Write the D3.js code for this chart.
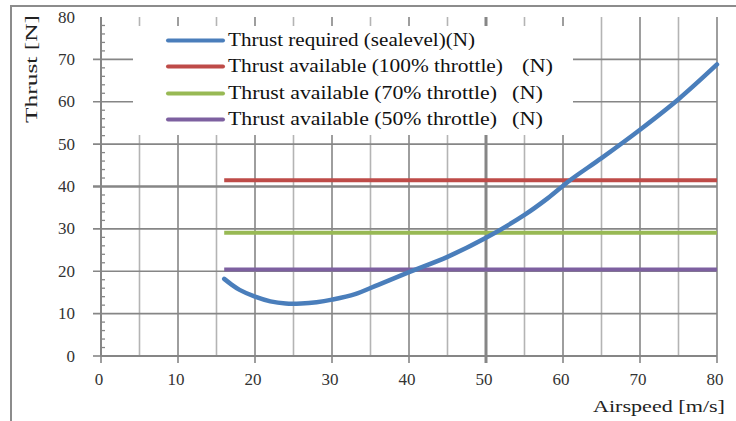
<!DOCTYPE html>
<html>
<head>
<script src="https://d3js.org/d3.v7.min.js"></script>
<style>
  body { margin: 0; background: #fff; }
  text { font-family: "Liberation Serif", "DejaVu Serif", serif; }
</style>
</head>
<body>
<svg id="chart" width="736" height="421"></svg>
<script>
// airspeed (m/s) vs thrust required at sea level (N)
var speeds   = [16, 17, 18, 20, 22, 24, 26, 28, 30, 33, 36, 40, 45, 50, 55, 58, 61, 65, 70, 75, 80];
var required = [18.2, 16.8, 15.6, 14.0, 12.9, 12.4, 12.4, 12.7, 13.3, 14.6, 16.8, 19.8, 23.4, 27.9, 33.3, 37.2, 41.6, 46.7, 53.4, 60.6, 68.8];
// available thrust levels, flat from 16 to 80 m/s
var availSpan = [16, 80];
var avail100 = 41.5;
var avail70 = 29.1;
var avail50 = 20.4;

var seriesNames = ["Thrust required (sealevel)(N)", "Thrust available (100% throttle)", "Thrust available (70% throttle)", "Thrust available (50% throttle)"];
var seriesUnits = ["", "(N)", "(N)", "(N)"];
var colors = ["#4a7ebb", "#be4b48", "#98b954", "#7d60a0"];
var xTicks = [0, 10, 20, 30, 40, 50, 60, 70, 80];
var yTicks = [0, 10, 20, 30, 40, 50, 60, 70, 80];

var svg = d3.select("#chart");
var x = d3.scaleLinear().domain([0, 80]).range([101, 717]);
var y = d3.scaleLinear().domain([0, 80]).range([356, 17]);

// outer frame (left + top only show)
svg.append("path").attr("d", "M11,421 V6 H736").attr("fill", "none").attr("stroke", "#8c8c8c").attr("stroke-width", 2);

// vertical grid: minor every 5, major every 10
d3.range(5, 81, 5).forEach(function(v) {
  var major = v % 10 == 0;
  svg.append("line")
    .attr("x1", x(v)).attr("x2", x(v)).attr("y1", y(80)).attr("y2", y(0))
    .attr("stroke", major ? "#868686" : "#b4b4b4")
    .attr("stroke-width", v == 50 ? 3 : 1.6);
});
// horizontal grid, extends left of the axis as the major tick
d3.range(10, 71, 10).forEach(function(v) {
  svg.append("line")
    .attr("x1", x(0) - 8).attr("x2", x(80)).attr("y1", y(v)).attr("y2", y(v))
    .attr("stroke", "#868686")
    .attr("stroke-width", v == 40 ? 2.6 : 1.6);
});

// y axis with minor ticks
svg.append("line").attr("x1", x(0)).attr("x2", x(0)).attr("y1", y(80)).attr("y2", y(0))
  .attr("stroke", "#868686").attr("stroke-width", 2);
d3.range(0, 80, 2).filter(function(v) { return v % 10 != 0; }).forEach(function(v) {
  svg.append("line").attr("x1", x(0)).attr("x2", x(0) + 4).attr("y1", y(v)).attr("y2", y(v))
    .attr("stroke", "#868686").attr("stroke-width", 1.3);
});
svg.append("line").attr("x1", x(0) - 8).attr("x2", x(0)).attr("y1", y(0)).attr("y2", y(0))
  .attr("stroke", "#868686").attr("stroke-width", 1.6);

// x axis
svg.append("line").attr("x1", x(0)).attr("x2", x(80)).attr("y1", y(0)).attr("y2", y(0))
  .attr("stroke", "#868686").attr("stroke-width", 2);
xTicks.forEach(function(v) {
  svg.append("line").attr("x1", x(v)).attr("x2", x(v)).attr("y1", y(0)).attr("y2", y(0) + 7)
    .attr("stroke", "#868686").attr("stroke-width", v == 50 ? 3 : 1.6);
});

// tick labels
svg.selectAll(".ylab").data(yTicks).enter().append("text")
  .attr("x", 75).attr("y", function(d) { return y(d) + 5.5; })
  .attr("text-anchor", "end").attr("font-size", 17).attr("fill", "#333")
  .text(function(d) { return d; });
svg.selectAll(".xlab").data(xTicks).enter().append("text")
  .attr("x", function(d) { return x(d) - 2; }).attr("y", 385)
  .attr("text-anchor", "middle").attr("font-size", 17).attr("fill", "#333")
  .text(function(d) { return d; });

// axis titles
svg.append("text").attr("transform", "translate(37,123) rotate(-90)")
  .attr("font-size", 17).attr("fill", "#222")
  .attr("textLength", 108).attr("lengthAdjust", "spacingAndGlyphs")
  .text("Thrust [N]");
svg.append("text").attr("x", 593).attr("y", 412)
  .attr("font-size", 17).attr("fill", "#222")
  .attr("textLength", 132).attr("lengthAdjust", "spacingAndGlyphs")
  .text("Airspeed [m/s]");

// legend box covers the grid
svg.append("rect").attr("x", 133).attr("y", 26).attr("width", 440).attr("height", 109).attr("fill", "#fff");
var rowY = [40.5, 66.5, 93.5, 119.5];
var nameLen = [247, 275, 269, 269];
var unitX = [0, 522, 512, 512];
seriesNames.forEach(function(n, i) {
  svg.append("line").attr("x1", 168).attr("x2", 223).attr("y1", rowY[i]).attr("y2", rowY[i])
    .attr("stroke", colors[i]).attr("stroke-width", 4).attr("stroke-linecap", "round");
  svg.append("text").attr("x", 228).attr("y", rowY[i] + 5.5)
    .attr("font-size", 18).attr("fill", "#111")
    .attr("textLength", nameLen[i]).attr("lengthAdjust", "spacingAndGlyphs")
    .text(n);
  if (seriesUnits[i]) {
    svg.append("text").attr("x", unitX[i]).attr("y", rowY[i] + 5.5)
      .attr("font-size", 18).attr("fill", "#111")
      .attr("textLength", 31).attr("lengthAdjust", "spacingAndGlyphs")
      .text(seriesUnits[i]);
  }
});

// available thrust lines
[avail100, avail70, avail50].forEach(function(t, i) {
  svg.append("line").attr("x1", x(availSpan[0])).attr("x2", x(availSpan[1]))
    .attr("y1", y(t)).attr("y2", y(t))
    .attr("stroke", colors[i + 1]).attr("stroke-width", 4);
});

// required thrust curve
var line = d3.line()
  .x(function(d, i) { return x(speeds[i]); })
  .y(function(d) { return y(d); })
  .curve(d3.curveCatmullRom.alpha(0.5));
svg.append("path").datum(required)
  .attr("d", line)
  .attr("fill", "none").attr("stroke", colors[0]).attr("stroke-width", 4.5)
  .attr("stroke-linecap", "round");
</script>
</body>
</html>
